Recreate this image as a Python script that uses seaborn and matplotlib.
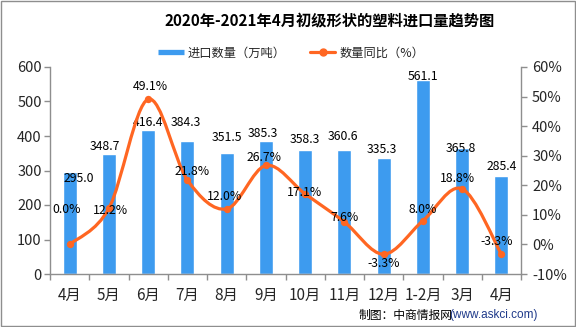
import numpy as np
import pandas as pd
import matplotlib
matplotlib.use("Agg")
import matplotlib.pyplot as plt
import seaborn as sns
from matplotlib.path import Path
from matplotlib.patches import PathPatch, Rectangle
from matplotlib.lines import Line2D

# ---------------- data ----------------
months = ['4月', '5月', '6月', '7月', '8月', '9月', '10月', '11月', '12月', '1-2月', '3月', '4月']
volume = [295.0, 348.7, 416.4, 384.3, 351.5, 385.3, 358.3, 360.6, 335.3, 561.1, 365.8, 285.4]
yoy = [0.0, 12.2, 49.1, 21.8, 12.0, 26.7, 17.1, 7.6, -3.3, 8.0, 18.8, -3.3]
left_ticks = [0, 100, 200, 300, 400, 500, 600]
right_ticks = [-10, 0, 10, 20, 30, 40, 50, 60]
title = '2020年-2021年4月初级形状的塑料进口量趋势图'
bar_label = '进口数量（万吨）'
line_label = '数量同比（%）'
source_a = '制图：中商情报网'
source_b = '(www.askci.com)'

# label offsets in pixels (style, not data)
bar_off = [(9, -6), (-4, 7), (0, 8), (-2, 19), (0, 15), (-3, 8), (0, 11), (-1, 13),
           (-2, 9), (0, 4), (-1, -1), (0, 9)]
pct_off = [(-3, 35), (2, -2), (2, 13), (5, 8), (-2, 12), (-2, 8), (-1, 1), (0, 4),
           (0, -9), (0, 11), (-5, 10), (-5, 13)]

BLUE = '#3D9BEF'
ORANGE = '#FF6622'
GRAY = '#8E8E8E'

sns.set_theme(style='white')
plt.rcParams['font.family'] = ['Noto Sans CJK SC', 'DejaVu Sans']

W, H = 576, 327
fig = plt.figure(figsize=(W / 100, H / 100), dpi=100)
ax = fig.add_axes([50 / W, 1 - 274 / H, 471 / W, 207 / H])

df = pd.DataFrame({'idx': list(range(len(months))), 'volume': volume, 'yoy': yoy})
sns.barplot(data=df, x='idx', y='volume', color=BLUE, saturation=1, width=0.36, ax=ax)
ax.set_xlim(-0.5, len(months) - 0.5)
ax.set_ylim(0, 600)
ax.set_yticks(left_ticks)
ax.set_yticklabels([str(v) for v in left_ticks], fontsize=10.5)
ax.set_xticks(range(len(months)))
ax.set_xticklabels(months, fontsize=11)
ax.set_xticks(np.arange(-0.5, len(months), 1), minor=True)
ax.tick_params(axis='x', which='major', length=0, pad=9)
ax.tick_params(axis='x', which='minor', length=4, width=1, color=GRAY, bottom=True, direction='out')
ax.tick_params(axis='y', length=4, width=1, color=GRAY, left=True, direction='out', pad=2)
ax.set_xlabel('')
ax.set_ylabel('')
for s in ['top', 'right']:
    ax.spines[s].set_visible(False)
for s in ['left', 'bottom']:
    ax.spines[s].set_color(GRAY)
    ax.spines[s].set_linewidth(1)

for i, v in enumerate(volume):
    dx, dy = bar_off[i]
    ax.annotate(f'{v:.1f}', xy=(i, v), xytext=(dx, dy), textcoords='offset pixels',
                ha='center', va='center', fontsize=8.8, color='black')

# right axis with smoothed line
ax2 = ax.twinx()
ax2.set_ylim(-10, 60)
n = len(yoy)
P = np.array([[i, y] for i, y in enumerate(yoy)], dtype=float)
verts = [tuple(P[0])]
codes = [Path.MOVETO]
for i in range(n - 1):
    p_prev = P[max(i - 1, 0)]
    p_next2 = P[min(i + 2, n - 1)]
    c1 = P[i] + (P[i + 1] - p_prev) / 6.0
    c2 = P[i + 1] - (p_next2 - P[i]) / 6.0
    verts += [tuple(c1), tuple(c2), tuple(P[i + 1])]
    codes += [Path.CURVE4] * 3
ax2.add_patch(PathPatch(Path(verts, codes), fill=False, edgecolor=ORANGE, lw=2.3,
                        capstyle='round', joinstyle='round', zorder=3))
sns.scatterplot(data=df, x='idx', y='yoy', ax=ax2, color=ORANGE, s=28, linewidth=0,
                legend=False, zorder=4)
ax2.set_xlim(-0.5, len(months) - 0.5)
ax2.set_ylim(-10, 60)
ax2.set_yticks(right_ticks)
ax2.set_yticklabels([f'{v}%' for v in right_ticks], fontsize=10.5)
ax2.tick_params(axis='y', length=4, width=1, color=GRAY, right=True, direction='out', pad=4)
ax2.set_xlabel('')
ax2.set_ylabel('')
for s in ['top', 'left', 'bottom']:
    ax2.spines[s].set_visible(False)
ax2.spines['right'].set_color(GRAY)
ax2.spines['right'].set_linewidth(1)

for i, v in enumerate(yoy):
    dx, dy = pct_off[i]
    ax2.annotate(f'{v:.1f}%', xy=(i, v), xytext=(dx, dy), textcoords='offset pixels',
                 ha='center', va='center', fontsize=8.8, color='black', zorder=5)

# title
fig.text(330 / W, 1 - 21 / H, title, ha='center', va='center', fontsize=11,
         fontweight='bold', color='black')

# legend
handles = [Line2D([0], [0], color=BLUE, lw=3.8, solid_capstyle='butt'),
           Line2D([0], [0], color=ORANGE, lw=2.3, marker='o', markersize=5)]
fig.legend(handles, [bar_label, line_label], loc='center', ncol=2,
           bbox_to_anchor=(291 / W, 1 - 53 / H), frameon=False, fontsize=8.8,
           handlelength=2.1, handletextpad=0.3, columnspacing=2.0)

# source
fig.text(538 / W, 1 - 315 / H, source_b, ha='right', va='center', fontsize=8.5,
         color='#1F3A8A', family=['Liberation Sans', 'DejaVu Sans'])
fig.text(453 / W, 1 - 315 / H, source_a, ha='right', va='center', fontsize=8.5,
         color='black')

# border
fig.add_artist(Rectangle((1 / W, 1.5 / H), 574 / W, 325 / H, transform=fig.transFigure,
                         fill=False, edgecolor=GRAY, lw=1))

fig.savefig('out.png', dpi=100)
